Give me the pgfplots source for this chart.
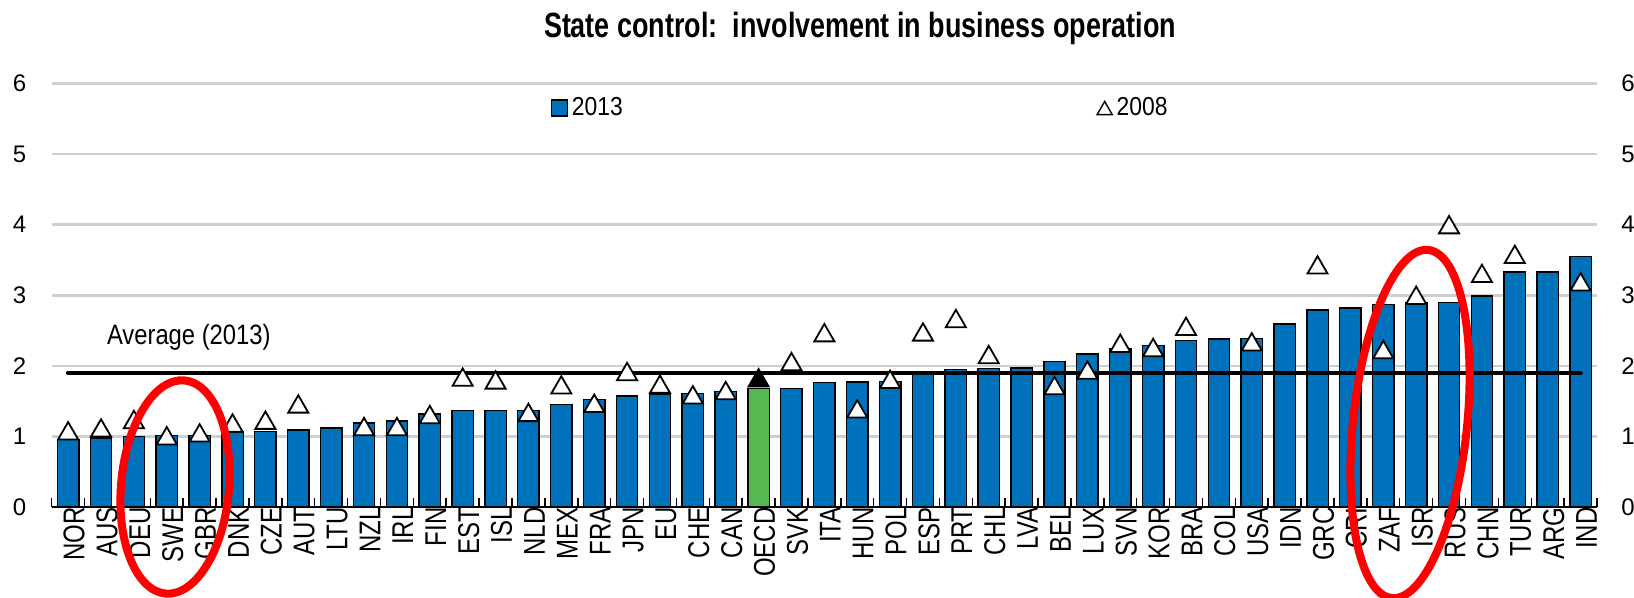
\documentclass[border=0pt]{standalone}
\usepackage{pgfplots}
\pgfplotsset{compat=1.18}
\usepackage{pgfplotstable}
\usepackage{fontspec}
\setmainfont{Liberation Sans}
\newfontfamily\xfont{Liberation Sans}[FakeStretch=0.8]
\newfontfamily\legfont{Liberation Sans}[FakeStretch=0.88]
\newfontfamily\avgfont{Liberation Sans}[FakeStretch=0.85]
\newfontfamily\titlefont{Liberation Sans Bold}[FakeStretch=0.77]
\definecolor{barblue}{RGB}{0,114,188}
\definecolor{oecdgreen}{RGB}{88,184,80}
\definecolor{gridgray}{RGB}{205,207,208}

\pgfplotstableread{
x v
0 0.96
1 0.98
2 1.00
3 1.01
4 1.01
5 1.06
6 1.07
7 1.09
8 1.12
9 1.19
10 1.22
11 1.32
12 1.37
13 1.37
14 1.37
15 1.45
16 1.52
17 1.57
18 1.60
19 1.61
20 1.64
22 1.68
23 1.76
24 1.77
25 1.78
26 1.91
27 1.95
28 1.96
29 1.97
30 2.06
31 2.17
32 2.24
33 2.29
34 2.36
35 2.38
36 2.39
37 2.59
38 2.79
39 2.82
40 2.87
41 2.89
42 2.90
43 2.99
44 3.33
45 3.33
46 3.55
}\bars

\pgfplotstableread{
x v
0 1.08
1 1.12
2 1.24
3 1.01
4 1.05
5 1.19
6 1.23
7 1.46
9 1.14
10 1.14
11 1.31
12 1.84
13 1.80
14 1.34
15 1.73
16 1.47
17 1.92
18 1.74
19 1.59
20 1.65
22 2.06
23 2.47
24 1.39
25 1.81
26 2.48
27 2.67
28 2.16
30 1.72
31 1.94
32 2.32
33 2.26
34 2.56
36 2.34
38 3.43
40 2.23
41 3.00
42 4.00
43 3.31
44 3.58
46 3.19
}\tris

\begin{document}
\begin{tikzpicture}
\path[use as bounding box] (0,0) rectangle (817pt,299pt);
\node[anchor=base, inner sep=0pt, font=\titlefont\fontsize{17.5}{20}\selectfont] at (430pt,280pt) {State control:\ \ involvement in business operation};
\begin{axis}[
  at={(25.85pt,45.5pt)}, anchor=south west,
  scale only axis, width=772.65pt, height=211.75pt,
  xmin=-0.5, xmax=46.5, ymin=0, ymax=6,
  axis x line*=bottom, axis y line*=left,
  y axis line style={draw=none},
  x axis line style={black, line width=1pt},
  xtick={0,...,46},
  xticklabels={NOR,AUS,DEU,SWE,GBR,DNK,CZE,AUT,LTU,NZL,IRL,FIN,EST,ISL,NLD,MEX,FRA,JPN,EU,CHE,CAN,OECD,SVK,ITA,HUN,POL,ESP,PRT,CHL,LVA,BEL,LUX,SVN,KOR,BRA,COL,USA,IDN,GRC,CRI,ZAF,ISR,RUS,CHN,TUR,ARG,IND},
  major tick length=0pt,
  minor xtick={-0.5,0.5,...,46.5},
  minor tick length=4.5pt,
  tick align=inside,
  minor tick style={black, line width=0.75pt},
  ytick={0,...,6},
  ymajorgrids, grid style={gridgray, line width=1.3pt},
  /pgf/number format/assume math mode=true,
  x tick label style={rotate=90, anchor=east, inner sep=0pt, yshift=-3pt, font=\xfont\fontsize{15}{17}\selectfont},
  y tick label style={inner sep=0pt, xshift=-12.5pt, font=\fontsize{12}{14}\selectfont},
  clip=false,
  legend columns=2,
  legend style={at={(0.3229,0.942)}, anchor=west, draw=none, fill=none, inner sep=0pt,
    nodes={inner xsep=1.8pt, inner ysep=0pt}, font=\legfont\fontsize{13}{15}\selectfont,
    /tikz/every even column/.append style={column sep=235pt}},
]
\addplot[ybar, bar width=0.65, bar shift=0pt, fill=barblue, draw=black, line width=0.7pt,
  legend image code/.code={\draw[black, line width=0.6pt, fill=barblue] (0pt,-4pt) rectangle (8pt,4pt);}]
  table[x=x, y=v] {\bars};
\addlegendentry{2013}
\addplot[ybar, bar width=0.65, bar shift=0pt, fill=oecdgreen, draw=black, line width=0.7pt, forget plot]
  coordinates {(21,1.68)};
\addplot[black, line width=2.3pt, line cap=round, forget plot] coordinates {(0,1.9) (46,1.9)};
\addplot[only marks, mark=triangle*, mark size=5.8pt,
  mark options={fill=white, draw=black, line width=0.9pt, yshift=-1.45pt},
  legend image code/.code={\draw[black, fill=white, line width=0.7pt] (0pt,-3.3pt) -- (7.6pt,-3.3pt) -- (3.8pt,3.3pt) -- cycle;}]
  table[x=x, y=v] {\tris};
\addlegendentry{2008}
\addplot[only marks, mark=triangle*, mark size=5.8pt,
  mark options={fill=black, draw=black, line width=0.9pt, yshift=-1.45pt}, forget plot]
  coordinates {(21,1.83)};
\node[anchor=west, inner sep=0pt, font=\avgfont\fontsize{14}{16}\selectfont] at (axis cs:1.17,2.40) {Average (2013)};
\end{axis}
\begin{axis}[
  at={(25.85pt,45.5pt)}, anchor=south west,
  scale only axis, width=772.65pt, height=211.75pt,
  xmin=-0.5, xmax=46.5, ymin=0, ymax=6,
  axis x line=none, axis y line*=right,
  y axis line style={draw=none},
  ytick={0,...,6}, major tick length=0pt,
  /pgf/number format/assume math mode=true,
  y tick label style={inner sep=0pt, xshift=12pt, anchor=west, font=\fontsize{12}{14}\selectfont},
]
\addplot[draw=none] coordinates {(0,0)};
\end{axis}
\draw[red, line width=4pt, rotate around={-5:(87.5pt,55.5pt)}] (87.5pt,55.5pt) ellipse [x radius=27pt, y radius=53.5pt];
\draw[red, line width=4pt, rotate around={-6:(705pt,87pt)}] (705pt,87pt) ellipse [x radius=28.5pt, y radius=87.5pt];
\end{tikzpicture}
\end{document}
